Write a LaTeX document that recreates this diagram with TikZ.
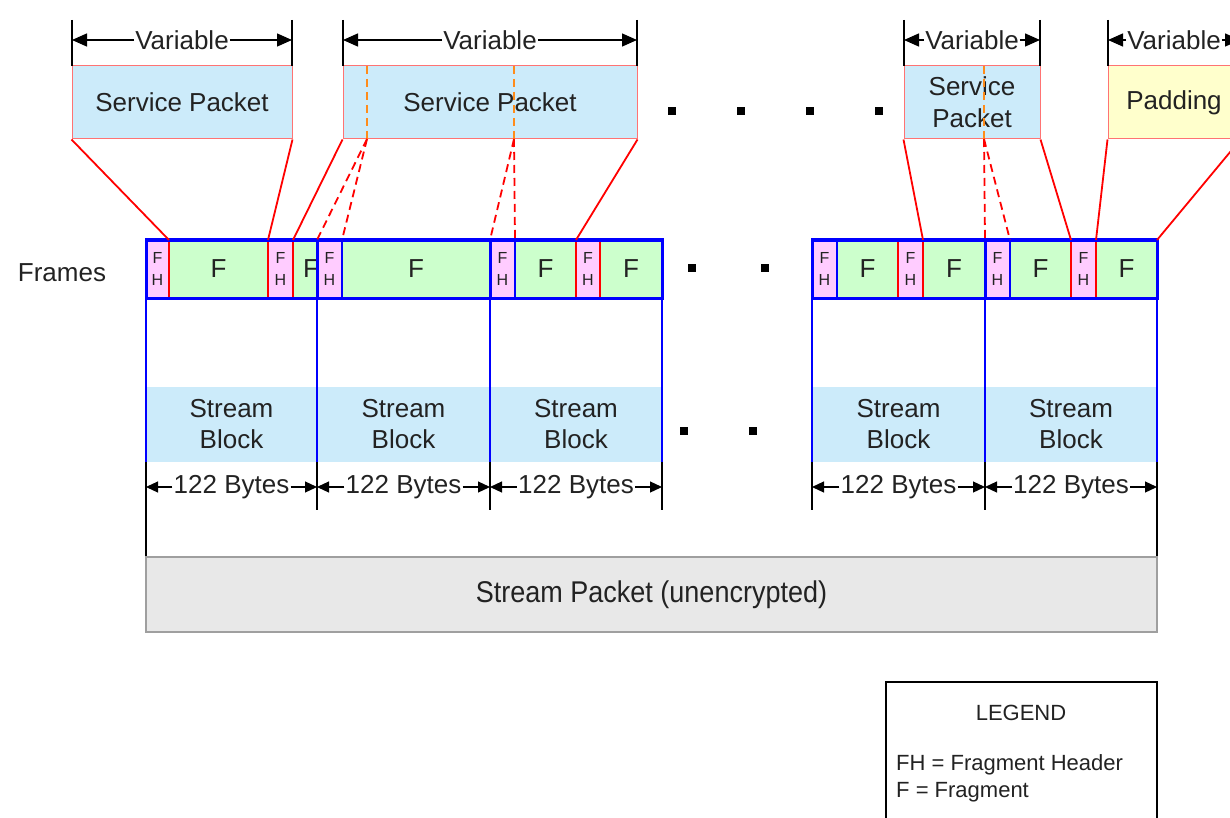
\documentclass[tikz,border=0pt]{standalone}
\usepackage{fontspec}
\setmainfont{Liberation Sans}
\usetikzlibrary{arrows.meta}
\definecolor{spblue}{HTML}{CCEBFA}
\definecolor{fhpink}{HTML}{FFCCFF}
\definecolor{fgreen}{HTML}{CCFFCC}
\definecolor{padyel}{HTML}{FFFFCC}
\definecolor{txt}{HTML}{222222}
\definecolor{pkgray}{HTML}{E8E8E8}
\definecolor{dashor}{HTML}{FF8C1A}
\begin{document}
\begin{tikzpicture}[x=1pt,y=-1pt,
  font=\fontsize{26}{31}\selectfont, text=txt,
  pkt/.style={draw=red!55, line width=1pt, fill=spblue, inner sep=0pt, minimum height=73pt, align=center},
  fhcell/.style={fill=fhpink, inner sep=0pt, minimum height=58pt, font=\fontsize{16}{22}\selectfont, align=center},
  fcell/.style={fill=fgreen, inner sep=0pt, minimum height=58pt},
  frbox/.style={draw=blue, line width=3pt, inner sep=0pt, minimum height=58pt},
  sblock/.style={fill=spblue, inner sep=0pt, minimum height=75pt, align=center},
  redln/.style={draw=red, line width=1.8pt},
  reddash/.style={draw=red, line width=1.8pt, dash pattern=on 8pt off 5pt},
  ordash/.style={draw=dashor, line width=1.5pt, dash pattern=on 8pt off 5pt},
  blueln/.style={draw=blue, line width=1.2pt},
  tick/.style={draw=black, line width=1.4pt},
  dimarr/.style={draw=black, line width=1.4pt, -{Triangle[length=15pt,width=13pt]}},
  smarr/.style={draw=black, line width=1.2pt, -{Triangle[length=12pt,width=11pt]}},
  lbl/.style={inner sep=1pt},
  dotsq/.style={fill=black}
]
\useasboundingbox (0,0) rectangle (1230,818);
\clip (0,0) rectangle (1230,818);

% ---------- service packets ----------
\node[pkt, minimum width=220pt] (sp1) at (182,102.5) {Service Packet};
\node[pkt, minimum width=294pt] (sp2) at (490,102.5) {Service Packet};
\node[pkt, minimum width=136pt, font=\fontsize{26}{32}\selectfont] (sp3) at (972,102.5) {Service\\Packet};
\node[pkt, minimum width=132pt, fill=padyel] (pad) at (1174,102.5) {Padding};

% orange dashed splits inside packets
\coordinate (d1t) at (367,66);  \coordinate (d1b) at (367,139);
\coordinate (d2t) at (514,66);  \coordinate (d2b) at (514,139);
\coordinate (d3t) at (984,66);  \coordinate (d3b) at (984,139);
\draw[ordash] (d1t) -- (d1b);
\draw[ordash] (d2t) -- (d2b);
\draw[ordash] (d3t) -- (d3b);

% ---------- Variable dimension lines ----------
\foreach \x in {72,292,343,637,904,1040,1108,1240} \draw[tick] (\x,20) -- (\x,66);
\node[lbl] (v1) at (182,40) {Variable};
\node[lbl] (v2) at (490,40) {Variable};
\node[lbl] (v3) at (972,40) {Variable};
\node[lbl] (v4) at (1174,40) {Variable};
\coordinate (v1l) at (72,40);   \coordinate (v1r) at (292,40);
\coordinate (v2l) at (343,40);  \coordinate (v2r) at (637,40);
\coordinate (v3l) at (904,40);  \coordinate (v3r) at (1040,40);
\coordinate (v4l) at (1108,40); \coordinate (v4r) at (1240,40);
\draw[dimarr] (v1.west) -- (v1l); \draw[dimarr] (v1.east) -- (v1r);
\draw[dimarr] (v2.west) -- (v2l); \draw[dimarr] (v2.east) -- (v2r);
\draw[dimarr] (v3.west) -- (v3l); \draw[dimarr] (v3.east) -- (v3r);
\draw[dimarr] (v4.west) -- (v4l); \draw[dimarr] (v4.east) -- (v4r);

% dots between packets
\foreach \x in {672,741,810,879} \fill[dotsq] (\x-4,107) rectangle (\x+4,115);

% ---------- Frames ----------
\node (frl) at (62,273) {Frames};

% frame 1
\node[fhcell, minimum width=23pt] (c11) at (157.5,269) {F\\H};
\node[fcell, minimum width=99pt] (c12) at (218.5,269) {F};
\node[fhcell, minimum width=25pt] (c13) at (280.5,269) {F\\H};
\node[fcell, minimum width=24pt] (c14) at (305,269) {};
\node (c14t) at (311,269) {F};
% frame 2
\node[fhcell, minimum width=25pt] (c21) at (329.5,269) {F\\H};
\node[fcell, minimum width=148pt] (c22) at (416,269) {F};
% frame 3
\node[fhcell, minimum width=25pt] (c31) at (502.5,269) {F\\H};
\node[fcell, minimum width=61pt] (c32) at (545.5,269) {F};
\node[fhcell, minimum width=24pt] (c33) at (588,269) {F\\H};
\node[fcell, minimum width=62pt] (c34) at (631,269) {F};
% frame 4
\node[fhcell, minimum width=25pt] (c41) at (824.5,269) {F\\H};
\node[fcell, minimum width=61pt] (c42) at (867.5,269) {F};
\node[fhcell, minimum width=25pt] (c43) at (910.5,269) {F\\H};
\node[fcell, minimum width=62pt] (c44) at (954,269) {F};
% frame 5
\node[fhcell, minimum width=25pt] (c51) at (997.5,269) {F\\H};
\node[fcell, minimum width=61pt] (c52) at (1040.5,269) {F};
\node[fhcell, minimum width=25pt] (c53) at (1083.5,269) {F\\H};
\node[fcell, minimum width=61pt] (c54) at (1126.5,269) {F};

% thin blue FH separators
\foreach \x in {342,515,837,1010} \draw[blueln] (\x,240) -- (\x,298);

% red packet boundaries in frames
\foreach \x in {169,268,293,576,600,898,923,1071,1096} \draw[redln] (\x,240) -- (\x,298);

% frame outlines
\node[frbox, minimum width=171pt] (fr1) at (231.5,269) {};
\node[frbox, minimum width=173pt] (fr2) at (403.5,269) {};
\node[frbox, minimum width=172pt] (fr3) at (576,269) {};
\node[frbox, minimum width=173pt] (fr4) at (898.5,269) {};
\node[frbox, minimum width=172pt] (fr5) at (1071,269) {};

\foreach \x in {692,765} \fill[dotsq] (\x-4,264) rectangle (\x+4,272);

% ---------- connectors packet -> frames ----------
\coordinate (t169) at (169,240);  \coordinate (t268) at (268,240);
\coordinate (t293) at (293,240);  \coordinate (t317) at (317,240);
\coordinate (t342) at (342,240);  \coordinate (t490) at (490,240);
\coordinate (t515) at (515,240);  \coordinate (t576) at (576,240);
\coordinate (t923) at (923,240);  \coordinate (t985) at (985,240);
\coordinate (t1010) at (1010,240); \coordinate (t1071) at (1071,240);
\coordinate (t1096) at (1096,240); \coordinate (t1157) at (1157,240);

\draw[redln] (sp1.south west) -- (t169);
\draw[redln] (sp1.south east) -- (t268);
\draw[redln] (sp2.south west) -- (t293);
\draw[reddash] (d1b) -- (t317);
\draw[reddash] (d1b) -- (t342);
\draw[reddash] (d2b) -- (t490);
\draw[reddash] (d2b) -- (t515);
\draw[redln] (sp2.south east) -- (t576);
\draw[redln] (sp3.south west) -- (t923);
\draw[reddash] (d3b) -- (t985);
\draw[reddash] (d3b) -- (t1010);
\draw[redln] (sp3.south east) -- (t1071);
\draw[redln] (pad.south west) -- (t1096);
\draw[redln] (pad.south east) -- (t1157);

% ---------- Stream blocks ----------
\node[sblock, minimum width=171pt] (sb1) at (231.5,424.5) {Stream\\Block};
\node[sblock, minimum width=173pt] (sb2) at (403.5,424.5) {Stream\\Block};
\node[sblock, minimum width=172pt] (sb3) at (576,424.5) {Stream\\Block};
\node[sblock, minimum width=173pt] (sb4) at (898.5,424.5) {Stream\\Block};
\node[sblock, minimum width=172pt] (sb5) at (1071,424.5) {Stream\\Block};

\foreach \x in {146,317,490,662,812,985,1157} \draw[blueln] (\x,298) -- (\x,462);

\foreach \x in {684,753} \fill[dotsq] (\x-4,427) rectangle (\x+4,435);

% ---------- 122 Bytes ----------
\foreach \x in {317,490,662,812,985} \draw[tick] (\x,462) -- (\x,510);
\draw[tick] (146,462) -- (146,557);
\draw[tick] (1157,462) -- (1157,557);
\node[lbl] (b1) at (231.5,487) {122 Bytes};
\node[lbl] (b2) at (403.5,487) {122 Bytes};
\node[lbl] (b3) at (576,487) {122 Bytes};
\node[lbl] (b4) at (898.5,487) {122 Bytes};
\node[lbl] (b5) at (1071,487) {122 Bytes};
\coordinate (k146) at (146,487); \coordinate (k317) at (317,487);
\coordinate (k490) at (490,487); \coordinate (k662) at (662,487);
\coordinate (k812) at (812,487); \coordinate (k985) at (985,487);
\coordinate (k1157) at (1157,487);
\draw[smarr] (b1.west) -- (k146);  \draw[smarr] (b1.east) -- (k317);
\draw[smarr] (b2.west) -- (k317);  \draw[smarr] (b2.east) -- (k490);
\draw[smarr] (b3.west) -- (k490);  \draw[smarr] (b3.east) -- (k662);
\draw[smarr] (b4.west) -- (k812);  \draw[smarr] (b4.east) -- (k985);
\draw[smarr] (b5.west) -- (k985);  \draw[smarr] (b5.east) -- (k1157);

% ---------- Stream Packet ----------
\node[draw=gray!75, line width=1.5pt, fill=pkgray, minimum width=1011pt, minimum height=75pt, inner sep=0pt] (spk) at (651.5,594.5) {\scalebox{0.9}[1]{\fontsize{30}{34}\selectfont Stream Packet (unencrypted)}};

% ---------- Legend ----------
\draw[line width=1.5pt] (886,840) -- (886,682) -- (1157,682) -- (1157,840);
\node[font=\fontsize{22}{26}\selectfont] (lg) at (1021,713) {LEGEND};
\node[font=\fontsize{22}{26}\selectfont, anchor=west, inner sep=0pt] (lg1) at (896,765) {FH = Fragment Header};
\node[font=\fontsize{22}{26}\selectfont, anchor=west, inner sep=0pt] (lg2) at (896,792) {F = Fragment};
\end{tikzpicture}
\end{document}
